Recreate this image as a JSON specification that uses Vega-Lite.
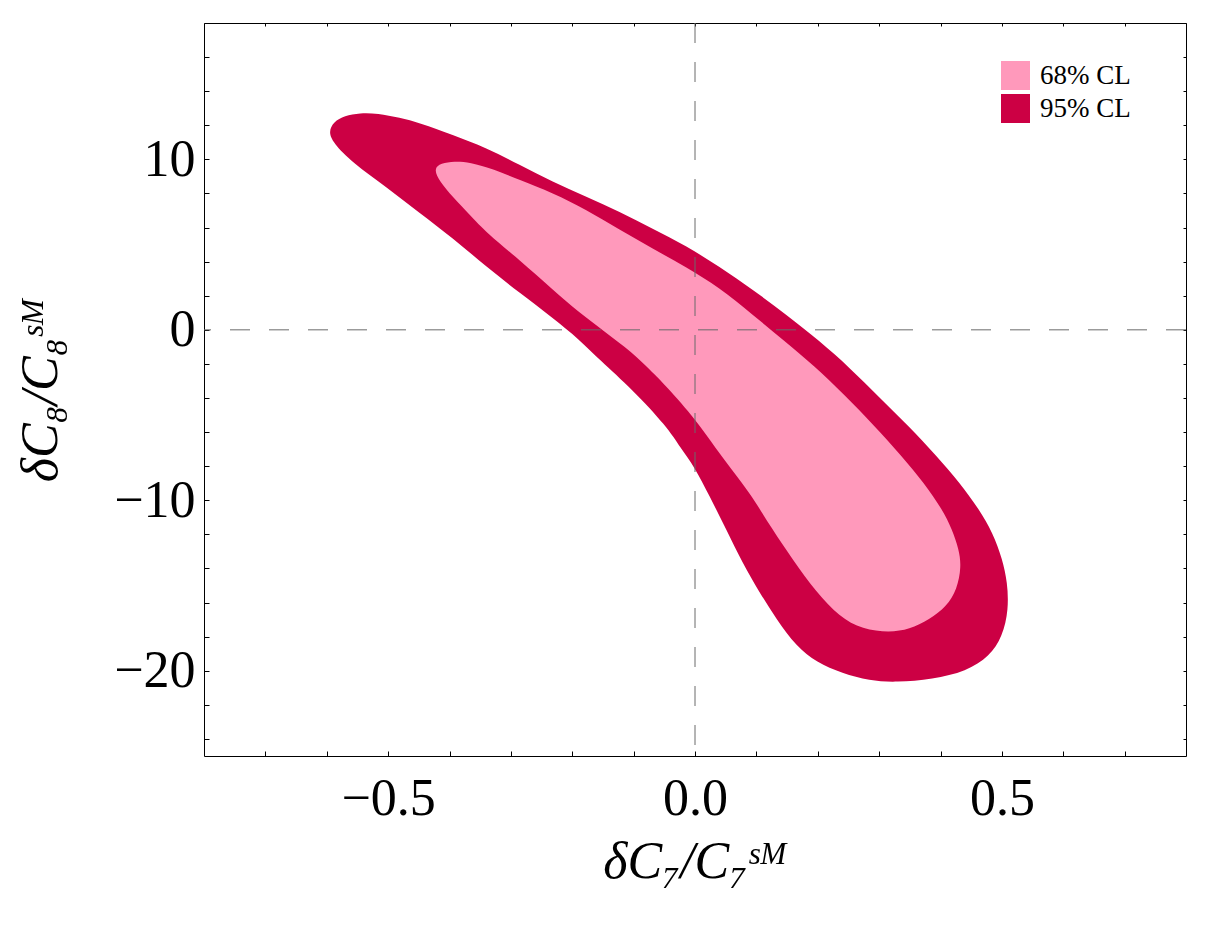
{
  "$schema": "https://vega.github.io/schema/vega-lite/v6.json",
  "width": 982,
  "height": 733,
  "autosize": {"type": "none"},
  "padding": {"left": 204, "top": 23, "right": 24, "bottom": 179},
  "background": "white",
  "config": {
    "view": {"stroke": null},
    "axis": {"labelFont": "Liberation Serif", "titleFont": "Liberation Serif", "grid": false, "domainColor": "black", "tickColor": "black", "labelColor": "black", "titleColor": "black", "domainWidth": 1, "tickWidth": 1}
  },
  "datasets": {
    "cl": [
      {"level": "95% CL", "i": 1, "x": -0.597, "y": 11.62},
      {"level": "95% CL", "i": 2, "x": -0.589, "y": 12.20},
      {"level": "95% CL", "i": 3, "x": -0.571, "y": 12.56},
      {"level": "95% CL", "i": 4, "x": -0.546, "y": 12.73},
      {"level": "95% CL", "i": 5, "x": -0.517, "y": 12.70},
      {"level": "95% CL", "i": 6, "x": -0.481, "y": 12.44},
      {"level": "95% CL", "i": 7, "x": -0.449, "y": 12.15},
      {"level": "95% CL", "i": 8, "x": -0.395, "y": 11.44},
      {"level": "95% CL", "i": 9, "x": -0.340, "y": 10.68},
      {"level": "95% CL", "i": 10, "x": -0.286, "y": 9.68},
      {"level": "95% CL", "i": 11, "x": -0.232, "y": 8.69},
      {"level": "95% CL", "i": 12, "x": -0.177, "y": 7.81},
      {"level": "95% CL", "i": 13, "x": -0.123, "y": 6.93},
      {"level": "95% CL", "i": 14, "x": -0.069, "y": 5.93},
      {"level": "95% CL", "i": 15, "x": -0.015, "y": 4.94},
      {"level": "95% CL", "i": 16, "x": 0.040, "y": 3.70},
      {"level": "95% CL", "i": 17, "x": 0.094, "y": 2.36},
      {"level": "95% CL", "i": 18, "x": 0.149, "y": 0.89},
      {"level": "95% CL", "i": 19, "x": 0.203, "y": -0.66},
      {"level": "95% CL", "i": 20, "x": 0.252, "y": -2.22},
      {"level": "95% CL", "i": 21, "x": 0.300, "y": -3.95},
      {"level": "95% CL", "i": 22, "x": 0.349, "y": -5.67},
      {"level": "95% CL", "i": 23, "x": 0.393, "y": -7.37},
      {"level": "95% CL", "i": 24, "x": 0.431, "y": -8.96},
      {"level": "95% CL", "i": 25, "x": 0.463, "y": -10.54},
      {"level": "95% CL", "i": 26, "x": 0.485, "y": -11.89},
      {"level": "95% CL", "i": 27, "x": 0.501, "y": -13.47},
      {"level": "95% CL", "i": 28, "x": 0.509, "y": -14.82},
      {"level": "95% CL", "i": 29, "x": 0.511, "y": -16.40},
      {"level": "95% CL", "i": 30, "x": 0.501, "y": -17.99},
      {"level": "95% CL", "i": 31, "x": 0.480, "y": -19.16},
      {"level": "95% CL", "i": 32, "x": 0.442, "y": -20.04},
      {"level": "95% CL", "i": 33, "x": 0.387, "y": -20.50},
      {"level": "95% CL", "i": 34, "x": 0.328, "y": -20.68},
      {"level": "95% CL", "i": 35, "x": 0.284, "y": -20.59},
      {"level": "95% CL", "i": 36, "x": 0.240, "y": -20.15},
      {"level": "95% CL", "i": 37, "x": 0.198, "y": -19.51},
      {"level": "95% CL", "i": 38, "x": 0.165, "y": -18.57},
      {"level": "95% CL", "i": 39, "x": 0.133, "y": -16.99},
      {"level": "95% CL", "i": 40, "x": 0.105, "y": -15.40},
      {"level": "95% CL", "i": 41, "x": 0.077, "y": -13.65},
      {"level": "95% CL", "i": 42, "x": 0.051, "y": -11.71},
      {"level": "95% CL", "i": 43, "x": 0.024, "y": -9.78},
      {"level": "95% CL", "i": 44, "x": -0.001, "y": -8.02},
      {"level": "95% CL", "i": 45, "x": -0.024, "y": -6.91},
      {"level": "95% CL", "i": 46, "x": -0.046, "y": -5.67},
      {"level": "95% CL", "i": 47, "x": -0.102, "y": -3.50},
      {"level": "95% CL", "i": 48, "x": -0.156, "y": -1.75},
      {"level": "95% CL", "i": 49, "x": -0.188, "y": -0.58},
      {"level": "95% CL", "i": 50, "x": -0.232, "y": 0.71},
      {"level": "95% CL", "i": 51, "x": -0.286, "y": 2.18},
      {"level": "95% CL", "i": 52, "x": -0.340, "y": 3.70},
      {"level": "95% CL", "i": 53, "x": -0.395, "y": 5.40},
      {"level": "95% CL", "i": 54, "x": -0.449, "y": 6.86},
      {"level": "95% CL", "i": 55, "x": -0.503, "y": 8.39},
      {"level": "95% CL", "i": 56, "x": -0.558, "y": 9.80},
      {"level": "95% CL", "i": 57, "x": -0.590, "y": 10.98},
      {"level": "68% CL", "i": 1, "x": -0.426, "y": 9.45},
      {"level": "68% CL", "i": 2, "x": -0.414, "y": 9.77},
      {"level": "68% CL", "i": 3, "x": -0.392, "y": 9.89},
      {"level": "68% CL", "i": 4, "x": -0.367, "y": 9.83},
      {"level": "68% CL", "i": 5, "x": -0.328, "y": 9.42},
      {"level": "68% CL", "i": 6, "x": -0.286, "y": 8.80},
      {"level": "68% CL", "i": 7, "x": -0.232, "y": 8.04},
      {"level": "68% CL", "i": 8, "x": -0.177, "y": 7.05},
      {"level": "68% CL", "i": 9, "x": -0.123, "y": 5.87},
      {"level": "68% CL", "i": 10, "x": -0.069, "y": 4.76},
      {"level": "68% CL", "i": 11, "x": -0.015, "y": 3.70},
      {"level": "68% CL", "i": 12, "x": 0.040, "y": 2.47},
      {"level": "68% CL", "i": 13, "x": 0.092, "y": 0.95},
      {"level": "68% CL", "i": 14, "x": 0.146, "y": -0.66},
      {"level": "68% CL", "i": 15, "x": 0.195, "y": -2.13},
      {"level": "68% CL", "i": 16, "x": 0.243, "y": -3.80},
      {"level": "68% CL", "i": 17, "x": 0.292, "y": -5.62},
      {"level": "68% CL", "i": 18, "x": 0.336, "y": -7.37},
      {"level": "68% CL", "i": 19, "x": 0.374, "y": -9.02},
      {"level": "68% CL", "i": 20, "x": 0.403, "y": -10.54},
      {"level": "68% CL", "i": 21, "x": 0.419, "y": -11.71},
      {"level": "68% CL", "i": 22, "x": 0.430, "y": -12.89},
      {"level": "68% CL", "i": 23, "x": 0.434, "y": -13.88},
      {"level": "68% CL", "i": 24, "x": 0.427, "y": -15.23},
      {"level": "68% CL", "i": 25, "x": 0.410, "y": -16.23},
      {"level": "68% CL", "i": 26, "x": 0.382, "y": -16.99},
      {"level": "68% CL", "i": 27, "x": 0.349, "y": -17.58},
      {"level": "68% CL", "i": 28, "x": 0.317, "y": -17.75},
      {"level": "68% CL", "i": 29, "x": 0.273, "y": -17.58},
      {"level": "68% CL", "i": 30, "x": 0.235, "y": -16.82},
      {"level": "68% CL", "i": 31, "x": 0.198, "y": -15.41},
      {"level": "68% CL", "i": 32, "x": 0.159, "y": -13.47},
      {"level": "68% CL", "i": 33, "x": 0.126, "y": -11.71},
      {"level": "68% CL", "i": 34, "x": 0.089, "y": -9.54},
      {"level": "68% CL", "i": 35, "x": 0.061, "y": -8.25},
      {"level": "68% CL", "i": 36, "x": 0.035, "y": -7.02},
      {"level": "68% CL", "i": 37, "x": 0.001, "y": -5.26},
      {"level": "68% CL", "i": 38, "x": -0.046, "y": -3.33},
      {"level": "68% CL", "i": 39, "x": -0.074, "y": -2.33},
      {"level": "68% CL", "i": 40, "x": -0.102, "y": -1.33},
      {"level": "68% CL", "i": 41, "x": -0.149, "y": -0.05},
      {"level": "68% CL", "i": 42, "x": -0.191, "y": 1.07},
      {"level": "68% CL", "i": 43, "x": -0.232, "y": 2.36},
      {"level": "68% CL", "i": 44, "x": -0.286, "y": 4.11},
      {"level": "68% CL", "i": 45, "x": -0.340, "y": 5.70},
      {"level": "68% CL", "i": 46, "x": -0.367, "y": 6.75},
      {"level": "68% CL", "i": 47, "x": -0.395, "y": 7.81},
      {"level": "68% CL", "i": 48, "x": -0.416, "y": 8.69}
    ],
    "zero": [{"v": 0}]
  },
  "layer": [
    {
      "data": {"name": "cl"},
      "transform": [{"filter": "datum.level === '95% CL'"}],
      "mark": {"type": "line", "strokeWidth": 0, "interpolate": "basis-closed"},
      "encoding": {
        "x": {"field": "x", "type": "quantitative", "scale": {"domain": [-0.8, 0.8], "nice": false, "zero": false},
          "axis": {"orient": "bottom", "values": [-0.7, -0.6, -0.5, -0.4, -0.3, -0.2, -0.1, 0, 0.1, 0.2, 0.3, 0.4, 0.5, 0.6, 0.7],
            "labelExpr": "(datum.value == -0.5 || datum.value == 0 || datum.value == 0.5) ? format(datum.value, '.1f') : ''",
            "tickSize": -5, "labelFontSize": 52, "labelPadding": 22, "labelFlush": false, "labelOverlap": false,
            "title": "δC₇/C₇ˢᴹ", "titleFontSize": 52, "titleFontStyle": "italic", "titleFontWeight": "normal", "titlePadding": 12}},
        "y": {"field": "y", "type": "quantitative", "scale": {"domain": [-25, 18], "nice": false, "zero": false},
          "axis": {"orient": "left", "values": [-24, -22, -20, -18, -16, -14, -12, -10, -8, -6, -4, -2, 0, 2, 4, 6, 8, 10, 12, 14, 16, 18],
            "labelExpr": "(datum.value % 10 == 0) ? format(datum.value, 'd') : ''",
            "tickSize": -5, "labelFontSize": 52, "labelPadding": 14, "labelFlush": false, "labelOverlap": false,
            "title": "δC₈/C₈ˢᴹ", "titleFontSize": 52, "titleFontStyle": "italic", "titleFontWeight": "normal", "titlePadding": 46}},
        "order": {"field": "i", "type": "quantitative"},
        "fill": {"field": "level", "type": "nominal",
          "scale": {"domain": ["68% CL", "95% CL"], "range": ["#ff99bb", "#cc0044"]},
          "legend": {"orient": "none", "legendX": 797, "legendY": 38, "title": null, "symbolType": "square", "symbolSize": 841,
            "symbolStrokeWidth": 0, "symbolOpacity": 1, "labelFont": "Liberation Serif", "labelFontSize": 27, "labelColor": "black",
            "labelOffset": 10, "rowPadding": 4, "padding": 0}}
      }
    },
    {
      "data": {"name": "cl"},
      "transform": [{"filter": "datum.level === '68% CL'"}],
      "mark": {"type": "line", "strokeWidth": 0, "interpolate": "basis-closed"},
      "encoding": {
        "x": {"field": "x", "type": "quantitative", "scale": {"domain": [-0.8, 0.8], "nice": false, "zero": false}, "axis": null},
        "y": {"field": "y", "type": "quantitative", "scale": {"domain": [-25, 18], "nice": false, "zero": false}, "axis": null},
        "order": {"field": "i", "type": "quantitative"},
        "fill": {"field": "level", "type": "nominal", "scale": {"domain": ["68% CL", "95% CL"], "range": ["#ff99bb", "#cc0044"]}}
      }
    },
    {
      "data": {"name": "zero"},
      "mark": {"type": "rule", "stroke": "#6a6a6a", "strokeWidth": 1, "strokeDash": [20, 19]},
      "encoding": {
        "x": {"field": "v", "type": "quantitative", "scale": {"domain": [-0.8, 0.8], "nice": false, "zero": false},
          "axis": {"orient": "top", "values": [-0.7, -0.6, -0.5, -0.4, -0.3, -0.2, -0.1, 0, 0.1, 0.2, 0.3, 0.4, 0.5, 0.6, 0.7],
            "labels": false, "tickSize": -3, "title": null}}
      }
    },
    {
      "data": {"name": "zero"},
      "mark": {"type": "rule", "stroke": "#6a6a6a", "strokeWidth": 1, "strokeDash": [20, 19]},
      "encoding": {
        "y": {"field": "v", "type": "quantitative", "scale": {"domain": [-25, 18], "nice": false, "zero": false},
          "axis": {"orient": "right", "values": [-24, -22, -20, -18, -16, -14, -12, -10, -8, -6, -4, -2, 0, 2, 4, 6, 8, 10, 12, 14, 16, 18],
            "labels": false, "tickSize": -3, "title": null}}
      }
    }
  ],
  "resolve": {"axis": {"x": "independent", "y": "independent"}}
}
